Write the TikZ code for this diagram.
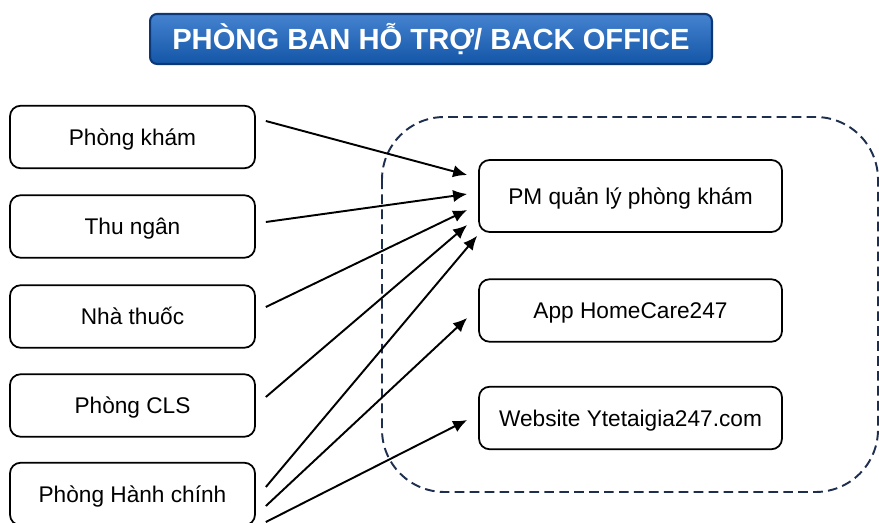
\documentclass[tikz,border=0pt]{standalone}
\usepackage{fontspec}
\setmainfont{Liberation Sans}
\usetikzlibrary{arrows.meta}
\definecolor{titleblue}{RGB}{22,100,196}
\definecolor{titleedge}{RGB}{12,56,120}
\definecolor{framenavy}{RGB}{30,46,78}
\tikzset{
    title_box/.style = {
        draw=titleedge,
        top color=titleblue!80!white,
        bottom color=titleblue!85!black,
        line width=1.2pt,
        rounded corners=4pt,
        minimum width=11.24cm,
        minimum height=1cm,
        text height=12.5pt,
        text depth=0pt,
        text=white,
        font=\fontsize{16.6}{19}\selectfont\bfseries
    },
    main_box/.style = {
        draw=black,
        line width=1pt,
        rounded corners=6pt,
        minimum width=4.9cm,
        minimum height=1.25cm,
        text height=9.4pt,
        text depth=0pt,
        font=\fontsize{12.9}{15}\selectfont
    },
    tool_box/.style = {
        main_box,
        minimum width=6.06cm
    },
    frame_line/.style = {
        draw=framenavy,
        line width=1.1pt,
        dash pattern=on 5.5pt off 3pt,
        rounded corners=1.25cm
    },
    link_line/.style = {
        draw=black,
        line width=1.1pt,
        -{Latex[length=8pt, width=7pt]}
    },
}
\begin{document}
\begin{tikzpicture}[x=0.02cm, y=-0.02cm]
    \clip (0, 0) rectangle (879, 523);
    \fill[white] (0, 0) rectangle (879, 523);

    \node[title_box] (title) at (431, 39) {PHÒNG BAN HỖ TRỢ/ BACK OFFICE};

    % phong ban ben trai
    \node[main_box] (kham) at (132.5, 137) {Phòng khám};
    \node[main_box] (thungan) at (132.5, 226.5) {Thu ngân};
    \node[main_box] (thuoc) at (132.5, 316.5) {Nhà thuốc};
    \node[main_box] (cls) at (132.5, 405.5) {Phòng CLS};
    \node[main_box] (hanhchinh) at (132.5, 494) {Phòng Hành chính};

    % khung phan mem
    \path[frame_line] (382, 117) rectangle (878, 492);
    \node[tool_box, minimum height=1.44cm] (pm) at (630.5, 196) {PM quản lý phòng khám};
    \node[tool_box] (app) at (630.5, 310.5) {App HomeCare247};
    \node[tool_box] (web) at (630.5, 418) {Website Ytetaigia247.com};

    \draw[link_line] ([shift={(10, -16)}]kham.east) -- ([shift={(-11, -21)}]pm.west);
    \draw[link_line] ([shift={(10, -4.5)}]thungan.east) -- ([shift={(-11, -2)}]pm.west);
    \draw[link_line] ([shift={(10, -9.5)}]thuoc.east) -- ([shift={(-11, 14)}]pm.west);
    \draw[link_line] ([shift={(10, -8.5)}]cls.east) -- ([shift={(-11, 29)}]pm.west);
    \draw[link_line] ([shift={(10, -7)}]hanhchinh.east) -- ([shift={(-1, 3)}]pm.south west);
    \draw[link_line] ([shift={(10, 12)}]hanhchinh.east) -- ([shift={(-11, 7.5)}]app.west);
    \draw[link_line] ([shift={(10, 28)}]hanhchinh.east) -- ([shift={(-11, 2)}]web.west);
\end{tikzpicture}
\end{document}
